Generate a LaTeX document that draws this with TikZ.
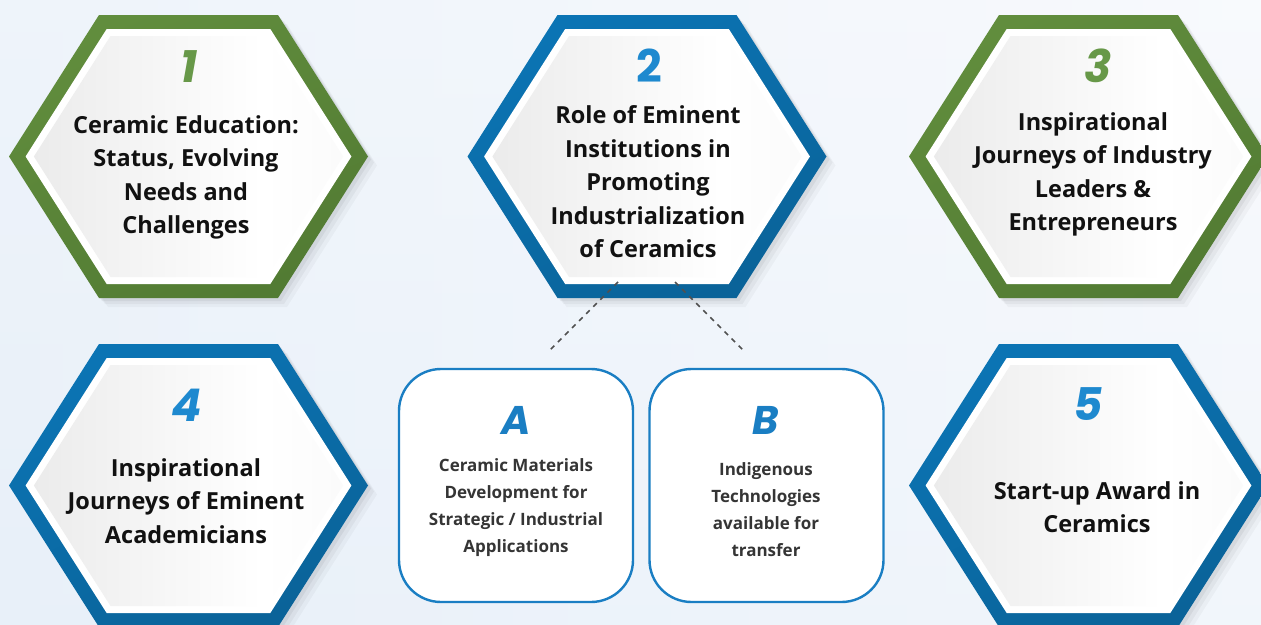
\documentclass[tikz,border=0pt]{standalone}
\usepackage{fontspec}
\setmainfont{Open Sans}
\newfontfamily\numfont{Poppins}
\usetikzlibrary{calc}
\definecolor{bgA}{HTML}{E8F0F9}
\definecolor{bgB}{HTML}{F8FAFD}
\definecolor{grnA}{HTML}{618D3D}
\definecolor{grnB}{HTML}{527B33}
\definecolor{bluA}{HTML}{0B74B4}
\definecolor{bluB}{HTML}{0A6399}
\definecolor{grnNum}{HTML}{679848}
\definecolor{bluNum}{HTML}{1E89CF}
\definecolor{boxBlue}{HTML}{1A7EC3}
\definecolor{dashGray}{HTML}{505050}
\definecolor{txt}{HTML}{111111}
\pgfdeclarehorizontalshading{innerhex}{100bp}{color(0bp)=(black!13); color(62bp)=(white); color(86bp)=(black!3); color(100bp)=(black!11)}
\tikzset{
  hexat/.style 2 args={insert path={
    ($(#1)+({-179.5+#2*1.1852},0)$) --
    ($(#1)+({-179.5+#2*1.1852+(141.5-#2)*0.636},{-141.5+#2})$) --
    ($(#1)+({179.5-#2*1.1852-(141.5-#2)*0.636},{-141.5+#2})$) --
    ($(#1)+({179.5-#2*1.1852},0)$) --
    ($(#1)+({179.5-#2*1.1852-(141.5-#2)*0.636},{141.5-#2})$) --
    ($(#1)+({-179.5+#2*1.1852+(141.5-#2)*0.636},{141.5-#2})$) -- cycle}},
  hextitle/.style={align=center, text=txt, inner sep=0pt,
    font=\bfseries\fontsize{23.5}{33.5}\selectfont},
  hexnum/.style={inner sep=0pt, font=\numfont\bfseries\fontsize{45}{45}\selectfont},
  cbox/.style={draw=boxBlue, line width=2.4pt, fill=white, rounded corners=42pt,
    minimum width=234pt, minimum height=233pt, inner sep=0pt},
  letter/.style={inner sep=0pt, text=boxBlue,
    font=\numfont\bfseries\itshape\fontsize{40}{40}\selectfont},
  boxtext/.style={align=center, text=txt!85, inner sep=0pt,
    font=\bfseries\fontsize{17}{27}\selectfont},
  dashline/.style={draw=dashGray, line width=1.6pt, dash pattern=on 5pt off 5pt}
}
\newcommand{\hexframe}[3]{%
  \foreach \o/\op in {9/0.03,6/0.04,3/0.05}{
    \fill[black, opacity=\op, transform canvas={shift={(\o pt,-\o pt)}}, hexat={#1}{0}];
  }
  \shade[top color=#2, bottom color=#3, shading angle=25, hexat={#1}{0}];
  \fill[white, hexat={#1}{14}];
  \shade[shading=innerhex, hexat={#1}{21}];
}
\begin{document}
\begin{tikzpicture}[x=1pt, y=-1pt]
  \useasboundingbox (0,0) rectangle (1261,624);
  \shade[left color=bgA, right color=bgB] (0,0) rectangle (1261,624);
  \shade[top color=bgB, bottom color=bgA, opacity=0.4] (0,0) rectangle (1261,624);

  \coordinate (h1) at (188.5,156.5);
  \coordinate (h2) at (647,156.5);
  \coordinate (h3) at (1088.5,156.5);
  \coordinate (h4) at (188.5,485.5);
  \coordinate (h5) at (1088.5,485.5);

  \hexframe{h1}{grnA}{grnB}
  \hexframe{h2}{bluA}{bluB}
  \hexframe{h3}{grnA}{grnB}
  \hexframe{h4}{bluA}{bluB}
  \hexframe{h5}{bluA}{bluB}

  % numbers
  \node[hexnum, text=grnNum] (n1) at (188.5,67) {\itshape 1};
  \node[hexnum, text=bluNum] (n2) at (649,66) {2};
  \node[hexnum, text=grnNum] (n3) at (1098,66) {\itshape 3};
  \node[hexnum, text=bluNum] (n4) at (187,405) {\itshape 4};
  \node[hexnum, text=bluNum] (n5) at (1088,404) {\itshape 5};

  % titles
  \node[hextitle] (t1) at (186,177.5) {Ceramic Education:\\Status, Evolving\\Needs and\\Challenges};
  \node[hextitle] (t2) at (648,182) {Role of Eminent\\Institutions in\\Promoting\\Industrialization\\of Ceramics};
  \node[hextitle] (t3) at (1093,174.5) {Inspirational\\Journeys of Industry\\Leaders \&\\Entrepreneurs};
  \node[hextitle] (t4) at (186,501) {Inspirational\\Journeys of Eminent\\Academicians};
  \node[hextitle] (t5) at (1097,507) {Start-up Award in\\Ceramics};

  % sub boxes
  \node[cbox] (A) at (516,485.5) {};
  \node[cbox] (B) at (766.5,485.5) {};
  \node[letter] (Al) at (516,420) {A};
  \node[letter] (Bl) at (766,420) {B};
  \node[boxtext] (At) at (516,507.5) {Ceramic Materials\\Development for\\Strategic / Industrial\\Applications};
  \node[boxtext] (Bt) at (766,509.5) {Indigenous\\Technologies\\available for\\transfer};

  % dashed connectors
  \coordinate (d1s) at (618,282);
  \coordinate (d1e) at (549,351);
  \coordinate (d2s) at (675,282);
  \coordinate (d2e) at (744,351);
  \draw[dashline] (d1s) -- (d1e);
  \draw[dashline] (d2s) -- (d2e);
\end{tikzpicture}
\end{document}
